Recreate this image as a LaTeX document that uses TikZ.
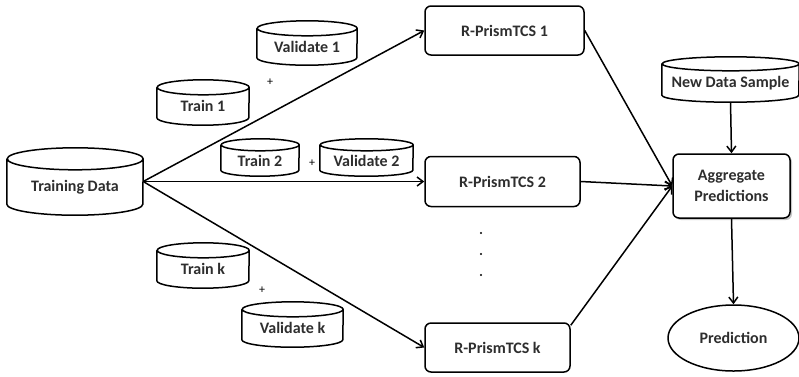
\documentclass[tikz,border=0pt]{standalone}
\usepackage{fontspec}
\setmainfont{Carlito}
\usetikzlibrary{arrows.meta,shapes.geometric,shadows,calc}
\definecolor{txt}{gray}{0.18}
\tikzset{
  lw/.style={line width=1.5pt},
  cylbox/.style={draw=none,inner sep=0pt},
  lbl/.style={font=\fontsize{16}{19}\selectfont\bfseries,text=txt},
  cyltext/.style={lbl,inner sep=0pt},
  procbox/.style={draw,lw,rounded corners=6pt,fill=white,lbl,align=center,inner sep=0pt},
  arr/.style={lw,-{Straight Barb[length=6pt,width=9pt,line width=1.5pt]}},
  plus/.style={font=\fontsize{12}{14}\selectfont,inner sep=0pt}
}
\newcommand\dbcyl[7]{%
  \node[cylbox,minimum width=#4 pt,minimum height=#5 pt] (#1) at (#2,#3) {};
  \draw[lw,fill=white] let \p1=(#1.north west), \p2=(#1.south east) in
    (\x1,\y1-#6pt) -- (\x1,\y2+#6pt)
    arc[start angle=180,end angle=360,x radius=#4pt*0.5,y radius=#6pt]
    -- (\x2,\y1-#6pt)
    arc[start angle=0,end angle=360,x radius=#4pt*0.5,y radius=#6pt];
  \node[cyltext] (#1t) at ([yshift=-#6pt*0.5]#1.center) {#7};
}
\begin{document}
\begin{tikzpicture}[x=1pt,y=-1pt]
\useasboundingbox (0,0) rectangle (799,376);
\node[procbox,minimum width=159pt,minimum height=49pt] (r1) at (504.5,30.5) {R-PrismTCS 1};
\node[procbox,minimum width=155pt,minimum height=50pt] (r2) at (502.5,181.5) {R-PrismTCS 2};
\node[procbox,minimum width=145pt,minimum height=49pt] (rk) at (497.5,347.5) {R-PrismTCS k};
\node[procbox,minimum width=117pt,minimum height=64pt,drop shadow={shadow xshift=2pt,shadow yshift=-2pt,opacity=0.45,fill=gray}] (agg) at (731.5,186) {Aggregate\\[2pt]Predictions};
\node[draw,lw,ellipse,minimum width=131pt,minimum height=66pt,inner sep=0pt,lbl] (pred) at (733.5,338) {Prediction};

\dbcyl{td}{75}{181.5}{136}{67}{11}{Training Data}
\draw[arr] (td.east) -- (r1.west);
\draw[arr] (td.east) -- (r2.west);
\draw[arr] (td.east) -- (rk.west);

\dbcyl{ta}{203}{102.5}{92}{45}{7.5}{Train 1}
\dbcyl{va}{307}{43}{100}{44}{7.5}{Validate 1}
\dbcyl{tb}{260}{157.5}{78}{37}{6}{Train 2}
\dbcyl{vb}{366.5}{157.5}{93}{37}{6}{Validate 2}
\dbcyl{tc}{203}{265.5}{92}{45}{7.5}{Train k}
\dbcyl{vc}{292.5}{324.5}{101}{45}{7.5}{Validate k}
\dbcyl{nds}{730.5}{79.5}{137}{45}{7}{New Data Sample}

\node[plus] (p1) at (270,82) {+};
\node[plus] (p2) at (312,163) {+};
\node[plus] (p3) at (262,290) {+};

\fill (481,233) circle[radius=1.1pt];
\fill (481,254) circle[radius=1.1pt];
\fill (481,275) circle[radius=1.1pt];

\draw[arr] (r1.east) -- (agg.west);
\draw[arr] (r2.east) -- (agg.west);
\draw[arr] ([yshift=-3pt]rk.north east) -- (agg.west);
\draw[arr] (nds.south) -- (agg.north);
\draw[arr] (agg.south) -- (pred.north);
\end{tikzpicture}
\end{document}
